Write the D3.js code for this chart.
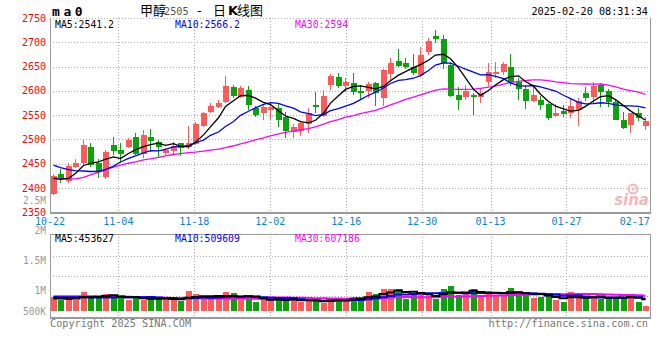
<!DOCTYPE html>
<html><head><meta charset="utf-8">
<script src="https://cdn.jsdelivr.net/npm/d3@7"></script>
<style>body{margin:0;background:#fff}svg{display:block}</style>
</head><body>
<svg id="c" width="660" height="360"></svg>
<script>
// ---- data ----
const openP  = [2388,2429,2415,2444,2452,2484,2452,2422,2489,2478,2484,2504,2470,2506,2494,2473,2477,2492,2485,2490,
                 2528,2557,2566,2578,2608,2588,2602,2564,2555,2561,2564,2546,2516,2517,2531,2571,2548,2612,2629,2611,
                 2617,2600,2600,2616,2585,2635,2662,2657,2649,2633,2679,2712,2707,2653,2592,2588,2592,2588,2619,2635,
                 2639,2650,2619,2603,2580,2581,2573,2548,2559,2554,2561,2596,2588,2612,2600,2578,2539,2530,2554,2528];
const highP  = [2428,2439,2451,2459,2499,2493,2459,2478,2506,2493,2502,2514,2519,2521,2499,2482,2495,2493,2527,2535,
                 2557,2574,2581,2630,2612,2610,2609,2569,2571,2576,2576,2557,2531,2538,2564,2598,2602,2634,2637,2626,
                 2637,2612,2619,2619,2644,2667,2686,2667,2675,2690,2708,2725,2716,2660,2607,2612,2596,2605,2657,2660,
                 2660,2676,2627,2612,2612,2589,2574,2573,2571,2585,2585,2607,2619,2616,2603,2583,2557,2555,2564,2546];
const lowP   = [2386,2411,2410,2441,2445,2444,2420,2419,2468,2451,2482,2468,2461,2475,2464,2468,2468,2466,2481,2488,
                 2526,2555,2564,2575,2585,2585,2561,2546,2539,2540,2526,2502,2502,2507,2513,2554,2547,2602,2605,2598,
                 2592,2581,2585,2569,2569,2619,2650,2646,2633,2629,2674,2698,2646,2588,2561,2581,2550,2576,2609,2626,
                 2633,2609,2581,2563,2578,2561,2539,2546,2546,2544,2528,2580,2573,2566,2566,2539,2521,2514,2537,2519];
const closeP = [2425,2420,2446,2452,2489,2447,2434,2474,2477,2471,2499,2471,2509,2497,2485,2478,2487,2482,2493,2531,
                 2554,2569,2576,2610,2590,2605,2571,2550,2566,2567,2540,2518,2526,2533,2554,2566,2590,2631,2609,2619,
                 2598,2595,2614,2595,2643,2658,2652,2650,2636,2674,2703,2706,2658,2589,2581,2600,2588,2595,2639,2639,
                 2655,2619,2603,2580,2592,2571,2545,2554,2552,2569,2580,2585,2609,2598,2578,2540,2524,2554,2544,2538];
// volume in thousands of lots
const volumeK = [883,838,867,838,967,895,867,933,900,867,838,867,838,855,872,838,838,822,983,933,
                 900,845,845,967,950,833,878,800,855,828,845,845,828,795,838,812,783,845,867,822,
                 883,867,967,928,1017,1017,1022,855,938,928,917,855,1017,1067,917,928,1017,912,983,912,
                 896,1038,967,912,872,883,912,838,800,967,878,872,878,855,867,883,883,922,800,733];
// moving-average values before enough history exists
const ma5Lead  = [2420,2418,2420,2430];
const ma10Lead = [2447,2442,2438,2436,2435,2434,2434,2438,2445];
const ma30Lead = [2421,2420,2419,2419,2422,2427,2432,2438,2443,2447,2451,2454,2458,2460,2463,2466,2469,2471,2473,2474,
                  2476,2478,2480,2483,2487,2491,2495,2499,2503];
const vma5Lead  = [860,858,855,860];
const vma10Lead = [882,880,879,878,880,879,877,876,874];
const vma30Lead = [897,896,896,895,895,894,893,893,892,888,886,884,882,880,872,870,868,866,865,864,
                   862,860,858,857,856,855,855,854,854];

const dateLabels = ["10-22","11-04","11-18","12-02","12-16","12-30","01-13","01-27","02-17"];
const dateIndex  = [0,9,19,29,39,49,58,68,77];
const gridDateIndex = [9,19,29,39,49,58,68];
const priceTicks = [2750,2700,2650,2600,2550,2500,2450,2400,2350];
const priceGrid  = [2700,2650,2600,2550,2500,2450,2400];
const volTicksK  = [2500,2000,1500,1000,500];
const volTickLabels = ["2.5M","2M","1.5M","1M","500K"];

// ---- drawing ----
const mono = "'DejaVu Sans Mono', monospace";
const UP = "#ff5a5a", DOWN = "#0ba30b", GRID = "#a8a8a8", FRAME = "#9a9a9a";
const svg = d3.select("#c");
const N = closeP.length;
const L = 50, R = 650, PT = 18, PB = 212.3, VT = 234, VB = 318, VBASE = 311;

const x = d3.scaleBand().domain(d3.range(N)).range([L, R]).paddingInner(0.2).paddingOuter(0.1);
const bx = i => Math.round(x(i));
const mx = i => Math.round(x(i)) + 3;
const gx = d3.scaleLinear().domain([0, N - 1]).range([L, R]);
const y = d3.scaleLinear().domain([2350, 2750]).range([PB, PT]);
const yv = d3.scaleLinear().domain([0, 1000]).range([350, 290]);

function ma(arr, n, lead) {
  return arr.map((v, i) => i < n - 1 ? lead[i] : d3.mean(arr.slice(i - n + 1, i + 1)));
}
const ma5 = ma(closeP, 5, ma5Lead), ma10 = ma(closeP, 10, ma10Lead), ma30 = ma(closeP, 30, ma30Lead);
const vma5 = ma(volumeK, 5, vma5Lead), vma10 = ma(volumeK, 10, vma10Lead), vma30 = ma(volumeK, 30, vma30Lead);

const g = svg.append("g");
// price grid
g.selectAll(".hg").data(priceGrid).join("line")
  .attr("x1", L).attr("x2", R).attr("y1", d => Math.round(y(d)) + 0.5).attr("y2", d => Math.round(y(d)) + 0.5)
  .attr("stroke", GRID).attr("stroke-dasharray", "1,2");
g.append("line").attr("x1", L).attr("x2", R).attr("y1", 18.5).attr("y2", 18.5)
  .attr("stroke", GRID).attr("stroke-dasharray", "1,2");
g.selectAll(".vg").data(gridDateIndex).join("line")
  .attr("x1", d => Math.round(gx(d)) + 0.5).attr("x2", d => Math.round(gx(d)) + 0.5)
  .attr("y1", PT).attr("y2", 212).attr("stroke", GRID).attr("stroke-dasharray", "1,2");
// volume grid
[256, 276, 296].forEach(v => g.append("line").attr("x1", L).attr("x2", R).attr("y1", v + 0.5).attr("y2", v + 0.5)
  .attr("stroke", GRID).attr("stroke-dasharray", "1,2"));
g.selectAll(".vg2").data(gridDateIndex).join("line")
  .attr("x1", d => Math.round(gx(d)) + 0.5).attr("x2", d => Math.round(gx(d)) + 0.5)
  .attr("y1", VT).attr("y2", VB).attr("stroke", GRID).attr("stroke-dasharray", "1,2");

// watermark
const wm = svg.append("g").attr("fill", "#f1b9b9").attr("stroke", "none");
wm.append("circle").attr("cx", 633).attr("cy", 189).attr("r", 4.5).attr("fill", "none").attr("stroke", "#f1b9b9").attr("stroke-width", 2);
wm.append("circle").attr("cx", 633).attr("cy", 189).attr("r", 1.5);
wm.append("text").attr("x", 649).attr("y", 205).attr("text-anchor", "end")
  .attr("font-family", "'DejaVu Sans', sans-serif").attr("font-size", 15).attr("font-weight", "bold")
  .attr("font-style", "italic").text("sina");

// candles
const idx = d3.range(N);
const cg = svg.append("g").attr("shape-rendering", "crispEdges");
cg.selectAll(".wick").data(idx).join("rect")
  .attr("x", i => bx(i) + 2).attr("width", 1)
  .attr("y", i => Math.round(y(highP[i]))).attr("height", i => Math.max(1, Math.round(y(lowP[i])) - Math.round(y(highP[i]))))
  .attr("fill", i => closeP[i] >= openP[i] ? UP : DOWN);
cg.selectAll(".body").data(idx).join("rect")
  .attr("x", i => bx(i)).attr("width", 6)
  .attr("y", i => Math.round(y(Math.max(openP[i], closeP[i]))))
  .attr("height", i => Math.max(1, Math.round(y(Math.min(openP[i], closeP[i]))) - Math.round(y(Math.max(openP[i], closeP[i])))))
  .attr("fill", i => closeP[i] >= openP[i] ? UP : DOWN);

function drawLine(vals, color, yscale, w, curve) {
  const ln = d3.line().x((d, i) => mx(i) - 0.5).y(d => yscale(d));
  if (curve) ln.curve(curve);
  svg.append("path").attr("d", ln(vals)).attr("fill", "none").attr("stroke", color).attr("stroke-width", w);
}
drawLine(ma30, "#ff00ff", y, 1.3);
drawLine(ma10, "#0000ff", y, 1.3);
drawLine(ma5, "#000000", y, 1.3);

// volume bars
cg.selectAll(".vol").data(idx).join("rect")
  .attr("x", i => bx(i)).attr("width", 6)
  .attr("y", i => Math.round(yv(volumeK[i])))
  .attr("height", i => VBASE - Math.round(yv(volumeK[i])))
  .attr("fill", i => closeP[i] >= openP[i] ? UP : DOWN);
drawLine(vma30, "#ff00ff", yv, 2, d3.curveStep);
drawLine(vma10, "#0000ff", yv, 2, d3.curveStep);
drawLine(vma5, "#000000", yv, 2, d3.curveStep);

// frames
const fr = svg.append("g").attr("stroke", FRAME).attr("shape-rendering", "crispEdges");
fr.append("line").attr("x1", L + 0.5).attr("x2", L + 0.5).attr("y1", PT).attr("y2", 214);
fr.append("line").attr("x1", R + 0.5).attr("x2", R + 0.5).attr("y1", PT).attr("y2", 214);
fr.append("line").attr("x1", L).attr("x2", R + 1).attr("y1", 213).attr("y2", 213).attr("stroke-width", 2);
fr.append("line").attr("x1", L).attr("x2", R + 1).attr("y1", VT + 0.5).attr("y2", VT + 0.5);
fr.append("line").attr("x1", L + 0.5).attr("x2", L + 0.5).attr("y1", VT).attr("y2", VB);
fr.append("line").attr("x1", R + 0.5).attr("x2", R + 0.5).attr("y1", VT).attr("y2", VB);
fr.append("line").attr("x1", L).attr("x2", R + 1).attr("y1", VB).attr("y2", VB).attr("stroke-width", 2);

// texts
const T = (xp, yp, s, color, anchor, size, extra) => {
  const t = svg.append("text").attr("x", xp).attr("y", yp).attr("fill", color)
    .attr("text-anchor", anchor || "start").attr("font-family", mono).attr("font-size", size || 9.8).text(s);
  if (extra) extra(t);
  return t;
};
svg.selectAll(".pt").data(priceTicks).join("text")
  .attr("x", 46).attr("y", d => y(d) + 3.5).attr("text-anchor", "end")
  .attr("font-family", mono).attr("font-size", 10).attr("fill", "#ff0000").text(d => d);
svg.selectAll(".vt").data(volTicksK).join("text")
  .attr("x", 46).attr("y", d => Math.min(yv(d), 311) + 3.8).attr("text-anchor", "end")
  .attr("font-family", mono).attr("font-size", 9.6).attr("fill", "#999999").text((d, i) => volTickLabels[i]);
svg.selectAll(".xt").data(dateIndex).join("text")
  .attr("x", d => gx(d)).attr("y", 224.5).attr("text-anchor", "middle")
  .attr("font-family", mono).attr("font-size", 10).attr("fill", "#0a82d2").text((d, i) => dateLabels[i]);

T(55, 27.5, "MA5:2541.2", "#000");
T(175, 27.5, "MA10:2566.2", "#0000ff");
T(295, 27.5, "MA30:2594", "#ff00ff");
T(55, 241.5, "MA5:453627", "#000");
T(175, 241.5, "MA10:509609", "#0000ff");
T(295, 241.5, "MA30:607186", "#ff00ff");
T(648, 15, "2025-02-20 08:31:34", "#000", "end", 10.2);
T(50, 327, "Copyright 2025 SINA.COM", "#777", "start", 10.2);
T(648, 327, "http://finance.sina.com.cn", "#777", "end", 10.2);
T(52, 16, "ma0", "#000", "start", 13, t => t.attr("font-weight", "bold").attr("letter-spacing", 3.6));

const title = svg.append("text").attr("y", 15).attr("font-size", 13)
  .attr("font-family", "'Noto Sans CJK SC', sans-serif").attr("fill", "#000");
title.append("tspan").attr("x", 140).text("甲醇");
title.append("tspan").attr("x", 164).attr("fill", "#555").attr("font-family", mono).attr("font-size", 10.2).text("2505");
title.append("tspan").attr("x", 197).attr("font-family", "'DejaVu Sans', sans-serif").text("-");
title.append("tspan").attr("x", 213).text("日");
title.append("tspan").attr("x", 228).attr("font-weight", "bold").attr("font-family", "'DejaVu Sans', sans-serif").text("K");
title.append("tspan").attr("x", 237).text("线图");
</script>
</body></html>
